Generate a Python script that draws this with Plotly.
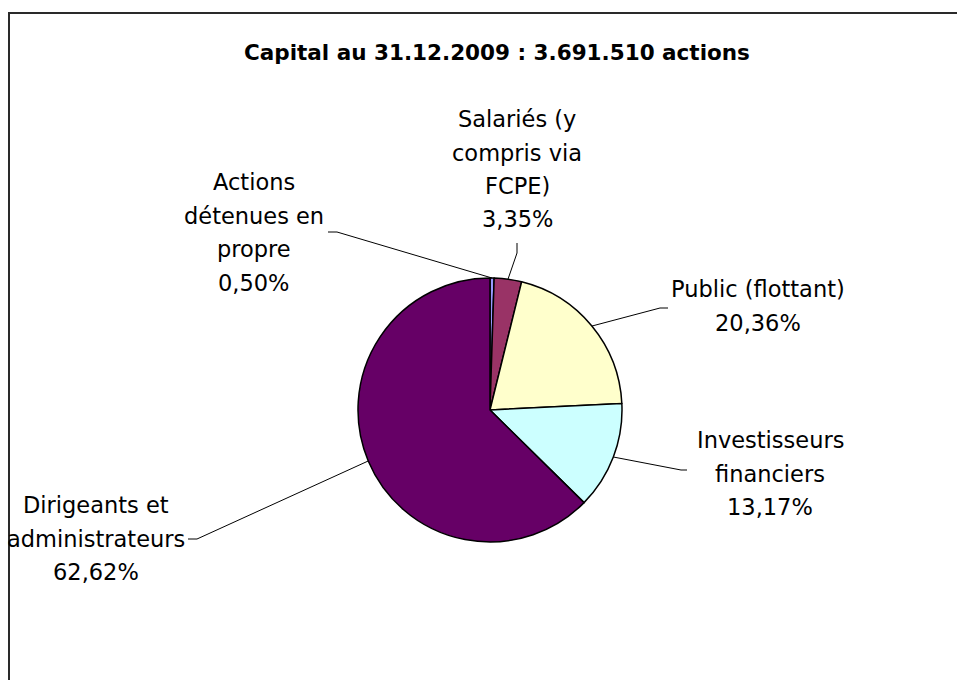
import math
import plotly.graph_objects as go

# ---- data ----
categories = [
    "Actions<br>détenues en<br>propre",
    "Salariés (y<br>compris via<br>FCPE)",
    "Public (flottant)",
    "Investisseurs<br>financiers",
    "Dirigeants et<br>administrateurs",
]
values = [0.50, 3.35, 20.36, 13.17, 62.62]
colors = ["#9999FF", "#993366", "#FFFFCC", "#CCFFFF", "#660066"]
title_text = "Capital au 31.12.2009 : 3.691.510 actions"

# ---- layout constants (page pixels) ----
W, H = 957, 680
CX, CY, R = 490, 410, 132
FONT = "DejaVu Sans"
LINE_STEP = 33.5
# label centre x, first-line centre y
label_pos = [(254, 182), (517, 119), (758, 289), (770, 440), (96, 505)]
# leader line label-side points (start, elbow)
leader_pts = [
    [(328, 232), (337, 232)],
    [(517, 243), (517, 253)],
    [(668, 308), (660, 308)],
    [(687, 470), (681, 470)],
    [(188, 539), (197, 539)],
]

def px(x):
    return x / W

def py(y):
    return 1 - y / H

fig = go.Figure()
fig.add_trace(go.Pie(
    labels=[c.replace("<br>", " ") for c in categories],
    values=values,
    sort=False,
    direction="clockwise",
    rotation=0,
    marker=dict(colors=colors, line=dict(color="#000000", width=1.5)),
    textinfo="none",
    hoverinfo="skip",
    showlegend=False,
    domain=dict(x=[px(CX - R), px(CX + R)], y=[py(CY + R), py(CY - R)]),
))

annotations = [dict(
    x=px(497), y=py(53), xref="paper", yref="paper",
    text="<b>" + title_text + "</b>", showarrow=False,
    font=dict(family=FONT, size=21.5, color="#000000"),
    xanchor="center", yanchor="middle",
)]
# chart-area border: only the top and left edges are inside the picture
shapes = [dict(
    type="path", xref="paper", yref="paper",
    path=f"M {px(9)} {py(H + 5)} L {px(9)} {py(13)} L {px(W + 5)} {py(13)}",
    line=dict(color="#2a2a2a", width=2),
)]

total = sum(values)
cum = 0.0
for i, (cat, v) in enumerate(zip(categories, values)):
    mid = (cum + v / 2) / total
    cum += v
    theta = 2 * math.pi * mid
    ex = CX + R * math.sin(theta)
    ey = CY - R * math.cos(theta)
    lines = cat.split("<br>") + [f"{v:.2f}".replace(".", ",") + "%"]
    lx, ly = label_pos[i]
    for j, ln in enumerate(lines):
        annotations.append(dict(
            x=px(lx), y=py(ly + j * LINE_STEP), xref="paper", yref="paper",
            text=ln, showarrow=False,
            font=dict(family=FONT, size=22.5, color="#000000"),
            xanchor="center", yanchor="middle",
        ))
    (x0, y0), (x1, y1) = leader_pts[i]
    path = f"M {px(x0)} {py(y0)} L {px(x1)} {py(y1)} L {px(ex)} {py(ey)}"
    shapes.append(dict(type="path", xref="paper", yref="paper", path=path,
                       line=dict(color="#000000", width=1)))

fig.update_layout(
    width=W, height=H,
    margin=dict(l=0, r=0, t=0, b=0),
    paper_bgcolor="#FFFFFF", plot_bgcolor="#FFFFFF",
    annotations=annotations, shapes=shapes,
)

fig.write_html(
    "out.html",
    config={"displayModeBar": False},
    post_script="document.body.style.margin='0';document.body.style.overflow='hidden';",
)
